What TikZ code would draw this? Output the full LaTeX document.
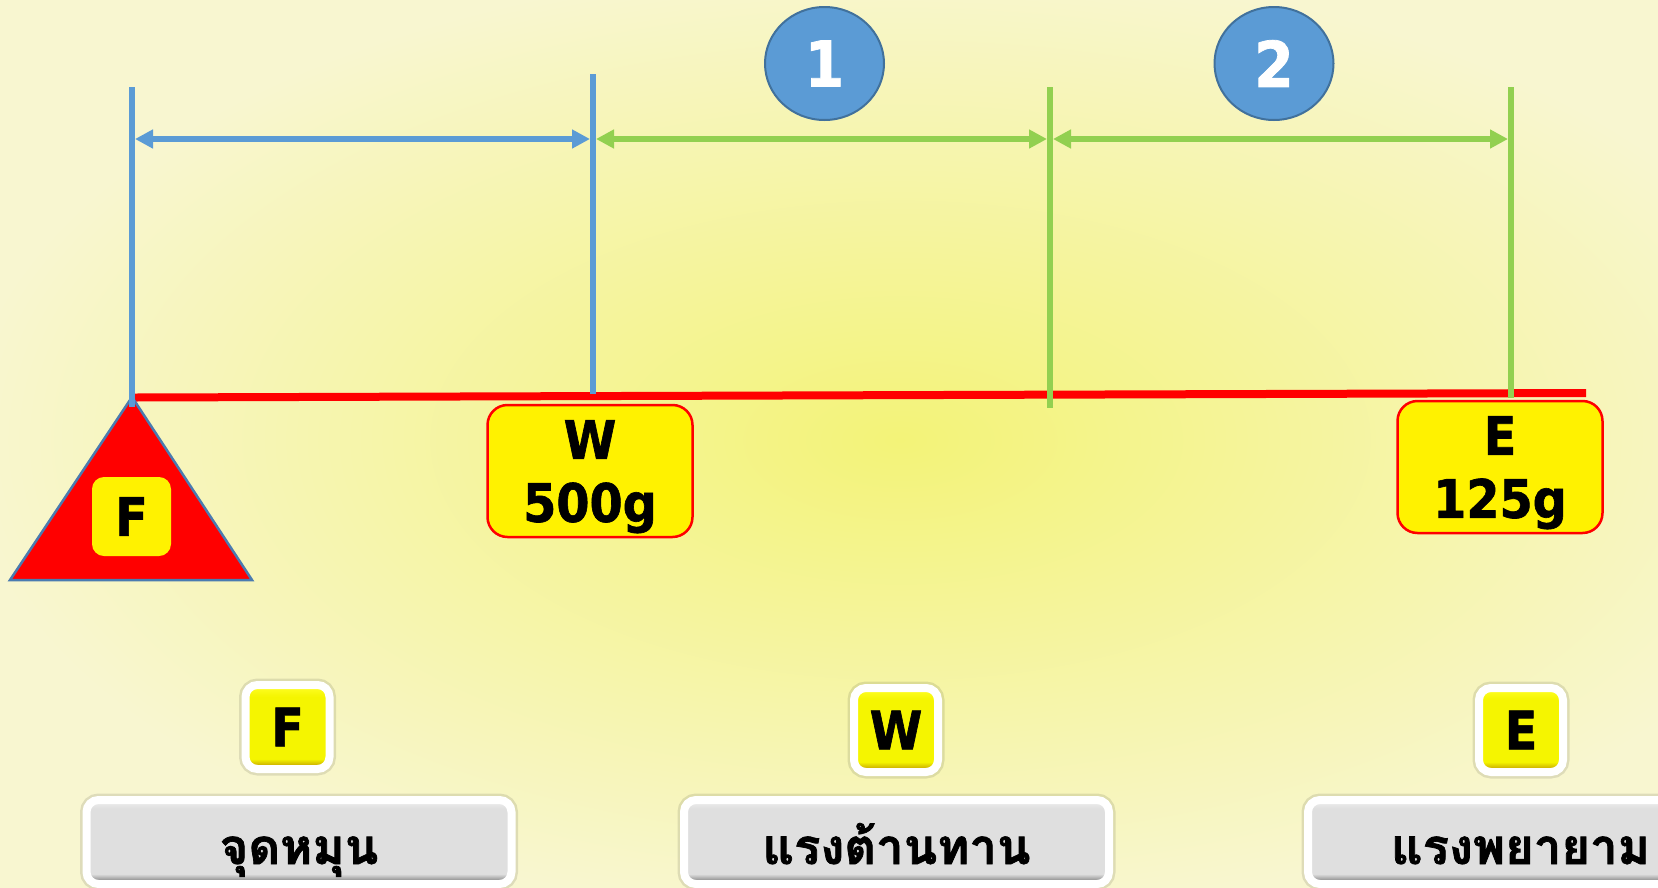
\documentclass[tikz,border=0pt]{standalone}
\usepackage{fontspec}
\usepackage{tikz}
\usetikzlibrary{arrows.meta,positioning,shapes.geometric}
\usepackage{xcolor}

\newfontfamily\wtfont[FakeBold=1.2]{DejaVu Sans Condensed Bold}
\newfontfamily\thaifont[Script=Thai,FakeBold=1.5]{Loma Bold}

\definecolor{armblue}{HTML}{5B9BD5}
\definecolor{armgreen}{HTML}{92D050}
\definecolor{circedge}{HTML}{41719C}
\definecolor{triedge}{HTML}{4A7BB0}
\definecolor{bgin}{RGB}{243,243,120}
\definecolor{bgout}{RGB}{248,246,208}
\definecolor{keytop}{RGB}{255,255,40}
\definecolor{keymid}{RGB}{245,245,0}
\definecolor{keybot}{RGB}{200,170,0}
\definecolor{nametop}{RGB}{240,240,240}
\definecolor{namemid}{RGB}{223,223,223}
\definecolor{namebot}{RGB}{140,140,140}

\pgfdeclareverticalshading{keyshade}{100bp}{color(0bp)=(keybot); color(27bp)=(keybot);
  color(31bp)=(keymid); color(68bp)=(keymid); color(75bp)=(keytop); color(100bp)=(keytop)}
\pgfdeclareverticalshading{nameshade}{100bp}{color(0bp)=(namebot); color(27bp)=(namebot);
  color(31bp)=(namemid); color(70bp)=(namemid); color(75bp)=(nametop); color(100bp)=(nametop)}

\begin{document}
\begin{tikzpicture}[
  x=1pt, y=-1pt,
  >={Triangle[length=18pt,width=18pt]},
  armline/.style={line width=6pt},
  dimline/.style={<->, line width=6pt, shorten <=3pt, shorten >=3pt},
  halo/.style={preaction={draw=black, draw opacity=0.10, line width=13pt}},
  massbox/.style={rectangle, rounded corners=20pt, draw=red, line width=2.5pt, fill=yellow,
                  minimum width=205pt, minimum height=132pt, inner sep=0pt, align=center,
                  text depth=0pt, font={\wtfont\fontsize{53}{63}\selectfont}},
  numnode/.style={ellipse, draw=circedge, line width=2pt, fill=armblue, minimum width=119pt,
                  minimum height=113pt, inner sep=0pt, text=white,
                  font={\wtfont\fontsize{63}{63}\selectfont}},
  keynode/.style={rectangle, rounded corners=12pt, halo, draw=white, line width=8pt, shade,
                  shading=keyshade, minimum width=84pt, minimum height=84pt, inner sep=0pt,
                  font={\wtfont\fontsize{53}{60}\selectfont}},
  namenode/.style={rectangle, rounded corners=12pt, halo, draw=white, line width=8pt, shade,
                   shading=nameshade, minimum width=425pt, minimum height=84pt, inner sep=0pt,
                   text height=48pt, text depth=4pt,
                   font={\thaifont\fontsize{49}{56}\selectfont}}
]

% Background
\useasboundingbox (0,0) rectangle (1658,887);
\begin{scope}
  \clip (0,0) rectangle (1658,887);
  \shade[overlay, inner color=bgin, outer color=bgout] (-40,-40) rectangle (1840,920);
\end{scope}

% Lever
\coordinate (lvleft) at (135,397.5);
\coordinate (lvright) at (1586,393);
\draw[red, line width=8pt] (lvleft) -- (lvright);

% Fulcrum
\coordinate (trileft) at (10,580);
\coordinate (tritop) at (132,397);
\coordinate (triright) at (252,580);
\filldraw[fill=red, draw=triedge, line width=2.5pt] (trileft) -- (tritop) -- (triright) -- cycle;
\node[rectangle, rounded corners=12pt, fill=yellow, minimum size=79pt, inner sep=0pt,
      font={\wtfont\fontsize{53}{60}\selectfont}] (fulcrum) at (131.5,516.5) {F};

% Marker lines
\coordinate (ftop) at (132,87);   \coordinate (fbot) at (132,407);
\coordinate (wtop) at (593,74);   \coordinate (wbot) at (593,394);
\coordinate (mtop) at (1050,87);  \coordinate (mbot) at (1050,408);
\coordinate (etop) at (1511,87);  \coordinate (ebot) at (1511,398);
\draw[armline, armblue] (ftop) -- (fbot);
\draw[armline, armblue] (wtop) -- (wbot);
\draw[armline, armgreen] (mtop) -- (mbot);
\draw[armline, armgreen] (etop) -- (ebot);

% Distance arrows
\coordinate (fa) at (132,139);
\coordinate (wa) at (593,139);
\coordinate (ma) at (1050,139);
\coordinate (ea) at (1511,139);
\draw[dimline, armblue] (fa) -- (wa);
\draw[dimline, armgreen] (wa) -- (ma);
\draw[dimline, armgreen] (ma) -- (ea);

% Step numbers
\node[numnode] (step1) at (824.5,63.5) {1};
\node[numnode] (step2) at (1274,63.5) {2};

% Load and effort
\node[massbox] (load) at (590,471) {W\\500g};
\node[massbox] (effort) at (1500,467) {E\\125g};

% Keys
\node[keynode] (keyf) at (287.5,727) {F};
\node[keynode] (keyw) at (896,730) {W};
\node[keynode] (keye) at (1521,730) {E};

% Names
\node[namenode] (namef) at (299,842) {จุดหมุน};
\node[namenode] (namew) at (896.5,842) {แรงต้านทาน};
\node[namenode] (namee) at (1520.5,842) {แรงพยายาม};

\end{tikzpicture}
\end{document}
